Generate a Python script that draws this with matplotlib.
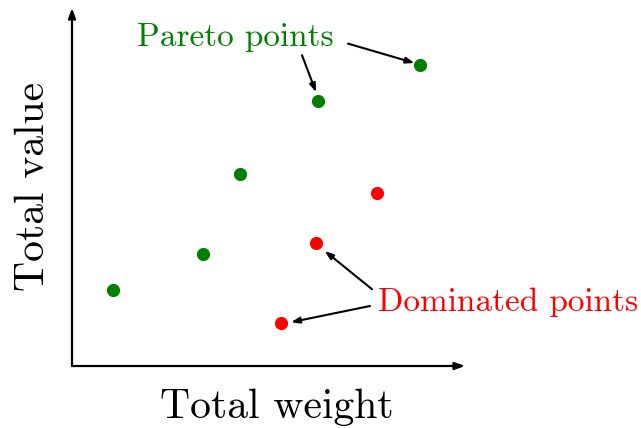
import matplotlib
matplotlib.use("Agg")
import matplotlib.pyplot as plt

# Data (arbitrary units)
pareto_weight = [1.025, 3.275, 4.2, 6.15, 8.7]
pareto_value = [1.9, 2.8, 4.8, 6.625, 7.525]
dominated_weight = [5.225, 6.1, 7.625]
dominated_value = [1.075, 3.075, 4.325]

x_label = "Total weight"
y_label = "Total value"
pareto_label = "Pareto points"
dominated_label = "Dominated points"

plt.rcParams['font.family'] = ['cmr10', 'DejaVu Serif']

fig = plt.figure(figsize=(6.41, 4.28), dpi=100)
ax = fig.add_axes([0, 0, 1, 1])
ax.set_xlim(-72 / 40, (641 - 72) / 40)
ax.set_ylim(-(428 - 366) / 40, 366 / 40)
ax.axis('off')

# axes arrows
ax.annotate('', xy=(9.825, 0), xytext=(0, 0),
            arrowprops=dict(arrowstyle='-|>,head_length=0.6,head_width=0.22', lw=1.6, color='black',
                            shrinkA=0, shrinkB=0))
ax.annotate('', xy=(0, 8.95), xytext=(0, 0),
            arrowprops=dict(arrowstyle='-|>,head_length=0.6,head_width=0.22', lw=1.6, color='black',
                            shrinkA=0, shrinkB=0))

ax.scatter(pareto_weight, pareto_value, s=90, color='green', zorder=3, linewidths=0)
ax.scatter(dominated_weight, dominated_value, s=90, color='red', zorder=3, linewidths=0)

ax.text(5.125, -1.03, x_label, fontsize=30, ha='center', va='center')
ax.text(-0.98, 4.5, y_label, fontsize=30, ha='center', va='center', rotation=90)

ax.text(4.09, 8.22, pareto_label, fontsize=24, ha='center', va='center', color='green')
ax.text(10.89, 1.6, dominated_label, fontsize=24, ha='center', va='center', color='red')

aprops = dict(arrowstyle='-|>,head_length=0.5,head_width=0.18', lw=1.5, color='black', shrinkA=0, shrinkB=0)
# Pareto arrows
ax.annotate('', xy=(pareto_weight[4] - 0.14, pareto_value[4] + 0.05), xytext=(6.9, 8.06), arrowprops=aprops)
ax.annotate('', xy=(pareto_weight[3] - 0.05, pareto_value[3] + 0.22), xytext=(5.75, 7.77), arrowprops=aprops)
# Dominated arrows
ax.annotate('', xy=(dominated_weight[1] + 0.22, dominated_value[1] - 0.2), xytext=(7.5, 1.92), arrowprops=aprops)
ax.annotate('', xy=(dominated_weight[0] + 0.25, dominated_value[0] + 0.02), xytext=(7.45, 1.5), arrowprops=aprops)

fig.savefig('out.png', dpi=100)
